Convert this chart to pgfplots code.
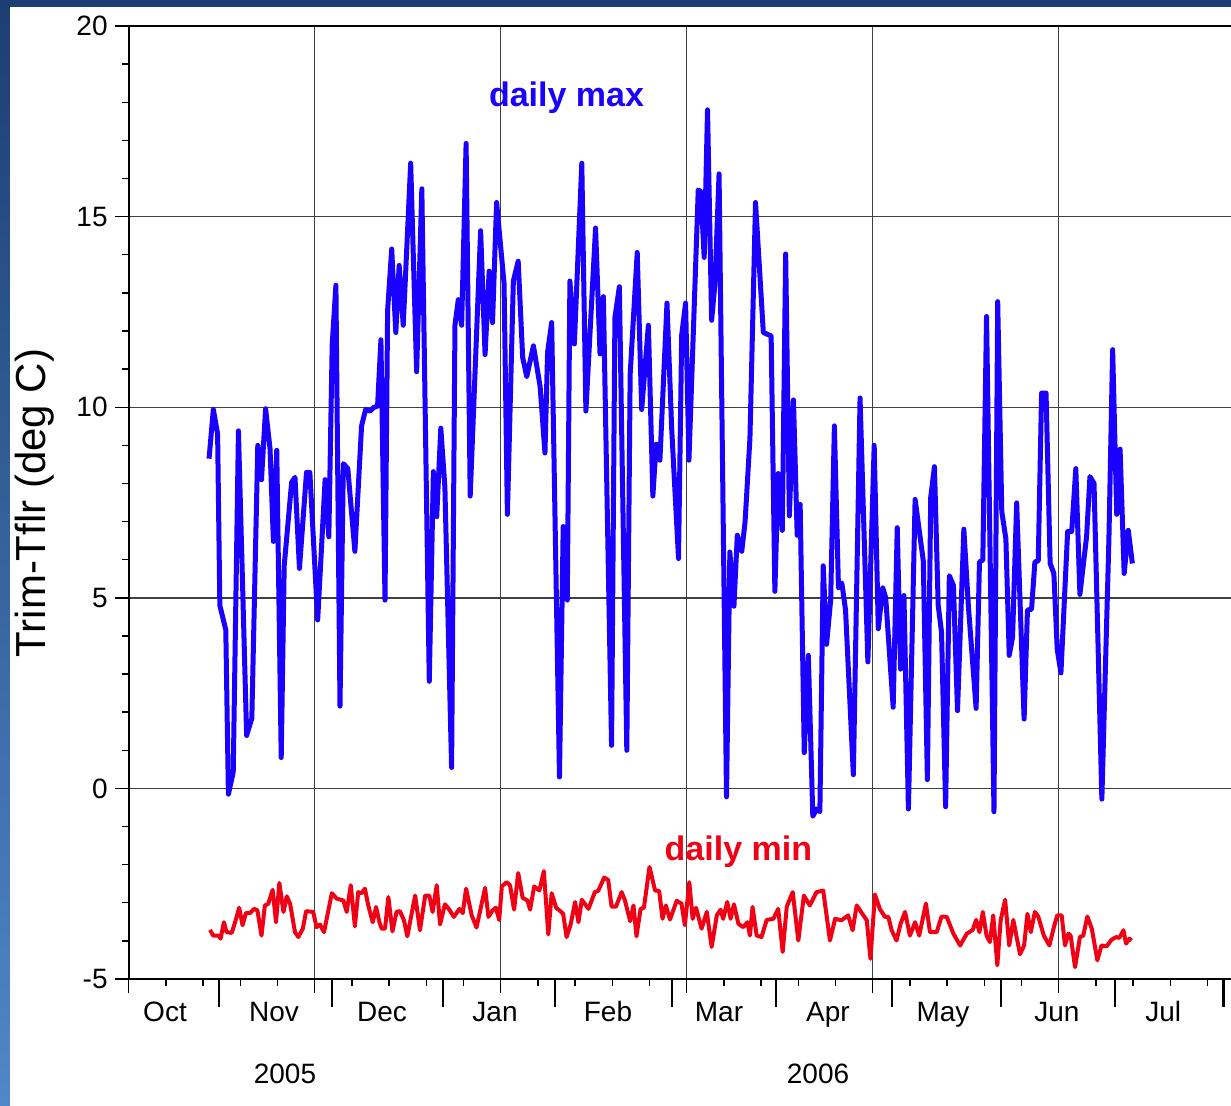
\documentclass[border=0pt]{standalone}
\usepackage{fontspec}
\setmainfont{Liberation Sans}
\usepackage{pgfplots}
\pgfplotsset{compat=1.18}
\definecolor{maxblue}{RGB}{25,0,255}
\definecolor{minred}{RGB}{240,0,20}
\definecolor{slidetop}{RGB}{28,62,115}
\definecolor{slidebot}{RGB}{80,135,200}
\begin{document}
\begin{tikzpicture}
\shade[top color=slidetop,bottom color=slidebot] (0pt,0pt) rectangle (615.5pt,-552.5pt);
\fill[white] (5pt,-3.5pt) rectangle (640pt,-570pt);
\begin{axis}[
  at={(64.35pt,-489.5pt)}, anchor=south west,
  scale only axis, width=558pt, height=476.5pt,
  xmin=0, xmax=300, ymin=-5, ymax=20,
  axis line style={line width=1.1pt},
  xtick={0,50,...,300}, xticklabels={,,},
  minor x tick num=4,
  ytick={-5,0,...,20}, minor y tick num=4,
  xtick pos=bottom, ytick pos=left, tick align=outside,
  major tick length=7pt, minor tick length=3.3pt,
  tick style={black, line width=0.7pt},
  grid=major, major grid style={black!75, line width=0.7pt},
  extra x ticks={24.17,54.62,84.46,114.70,146.05,174.01,205.08,234.54,265.13,294.30},
  extra x tick labels={,,},
  extra x tick style={grid=none, major tick length=14pt, tick style={line width=1.1pt, black}},
  yticklabel style={font=\fontsize{14}{16}\selectfont},
  /pgf/number format/assume math mode=true,
  clip=false, no markers,
]
\addplot[maxblue, line width=2.5pt, line join=round] table {
x y
21.6 8.65
22.75 9.94
23.9 9.30
24.5 4.80
26.1 4.16
26.8 -0.15
28.1 0.43
29.5 9.38
31.7 1.39
33.1 1.84
34.7 9.00
35.7 8.10
36.8 9.96
38.0 8.90
38.9 6.48
39.8 8.87
41.0 0.81
41.8 5.84
43.8 8.03
44.7 8.16
45.9 5.77
47.8 8.29
48.7 8.29
50.8 4.42
52.8 8.10
53.8 6.60
54.7 11.64
55.7 13.20
56.8 2.16
57.7 8.52
58.9 8.39
60.8 6.22
62.6 9.51
63.7 9.94
64.9 9.90
65.8 9.99
66.9 10.03
67.8 11.77
68.9 4.94
69.6 12.54
70.7 14.15
71.8 11.96
72.7 13.72
73.8 12.15
75.8 16.40
77.4 10.93
78.8 15.73
80.8 2.81
81.9 8.31
82.8 7.13
83.9 9.45
85.0 7.90
86.8 0.55
87.7 12.15
88.6 12.82
89.5 12.15
90.7 16.92
91.8 7.67
94.6 14.63
95.8 11.38
96.9 13.57
97.8 12.22
98.9 15.37
100.9 13.25
101.8 7.19
103.4 13.31
104.7 13.83
105.9 11.31
107.0 10.80
108.8 11.61
110.6 10.54
111.9 8.80
112.6 11.44
113.7 12.22
115.8 0.30
116.8 6.87
117.9 4.94
118.6 13.31
119.8 11.66
121.8 16.40
122.9 9.90
125.5 14.70
126.7 11.40
127.6 12.90
129.8 1.13
130.7 12.35
131.9 13.16
133.9 1.00
134.8 10.86
136.7 14.06
137.9 9.94
139.7 12.15
140.9 7.67
141.8 9.03
142.8 8.61
144.7 12.73
145.96 9.45
147.8 6.03
148.65 11.89
149.7 12.73
150.6 8.61
153.1 15.70
153.8 15.66
154.7 13.93
155.6 17.80
156.7 12.28
157.6 13.25
158.7 16.12
160.7 -0.22
161.6 6.20
162.7 4.78
163.6 6.64
164.8 6.22
165.7 7.00
167.0 9.19
168.5 15.37
170.6 11.96
172.7 11.87
173.7 5.17
174.6 8.26
175.7 6.77
176.6 14.02
177.6 7.15
178.7 10.19
179.7 6.64
180.5 7.45
181.6 0.94
182.7 3.49
183.9 -0.73
184.9 -0.54
185.8 -0.61
186.7 5.84
187.6 3.78
188.7 4.94
189.7 9.51
190.8 5.26
191.7 5.39
192.7 4.68
194.8 0.36
196.6 10.24
198.7 3.32
200.4 9.00
201.5 4.19
202.7 5.26
203.5 5.00
205.5 2.13
206.6 6.84
207.5 3.13
208.4 5.06
209.6 -0.54
211.4 7.58
213.6 5.97
214.7 0.23
215.6 7.64
216.6 8.44
217.6 4.81
218.5 4.10
219.6 -0.48
220.6 5.58
221.7 5.32
222.8 2.04
224.5 6.80
225.7 4.81
227.8 2.10
228.7 5.94
229.6 5.99
230.6 12.38
232.6 -0.61
233.6 12.77
234.7 7.26
235.8 6.55
236.7 3.49
237.6 3.97
238.7 7.49
240.7 1.82
241.6 4.68
242.7 4.70
243.6 5.94
244.5 5.97
245.4 10.37
246.6 10.37
247.7 5.90
248.7 5.64
249.6 3.65
250.6 3.03
252.4 6.74
253.5 6.74
254.6 8.39
255.7 5.09
257.5 6.61
258.4 8.18
259.5 8.00
261.6 -0.28
263.5 6.55
264.5 11.51
265.6 7.19
266.5 8.90
267.6 5.64
268.7 6.77
269.8 5.90
};
\addplot[minred, line width=2pt, line join=round] table {
x y
21.85 -3.71
22.7 -3.86
24.1 -3.86
24.7 -3.94
25.6 -3.51
26.3 -3.77
27.7 -3.79
28.6 -3.51
29.7 -3.13
30.6 -3.59
31.5 -3.27
32.6 -3.27
33.7 -3.16
34.6 -3.20
35.7 -3.86
36.6 -3.07
37.5 -3.03
38.7 -2.66
39.6 -3.51
40.5 -2.48
41.6 -3.24
42.5 -2.83
43.4 -3.03
44.7 -3.77
45.6 -3.90
46.8 -3.68
47.7 -3.22
49.6 -3.24
50.5 -3.64
51.4 -3.57
52.5 -3.77
54.6 -2.75
55.9 -2.89
57.7 -2.94
58.6 -3.24
59.7 -2.54
60.8 -3.62
61.7 -2.72
62.6 -2.75
63.5 -2.63
64.4 -3.07
65.6 -3.51
66.5 -3.11
67.4 -3.51
68.0 -3.68
68.9 -3.68
69.8 -2.85
70.9 -3.75
72.0 -3.24
72.9 -3.22
74.0 -3.46
74.9 -3.88
77.0 -2.81
78.3 -3.72
79.7 -2.81
80.8 -2.81
81.7 -3.24
82.8 -2.54
83.7 -3.57
85.0 -3.04
86.2 -3.18
87.4 -3.37
88.9 -3.16
89.8 -3.27
90.7 -2.63
92.2 -3.33
93.5 -3.65
95.8 -2.61
96.7 -3.37
97.8 -3.20
98.7 -3.13
99.6 -3.45
100.3 -2.57
101.6 -2.46
102.5 -2.54
103.6 -3.18
104.7 -2.22
105.9 -2.87
107.2 -2.94
107.9 -3.18
109.0 -2.57
110.4 -2.68
111.6 -2.17
112.8 -3.83
113.7 -2.75
114.9 -3.13
115.8 -3.20
116.8 -3.29
117.7 -3.90
118.8 -3.57
120.0 -2.98
120.9 -3.51
121.8 -2.92
123.6 -3.16
125.3 -2.72
126.2 -2.69
127.8 -2.34
128.9 -2.40
129.8 -3.10
131.0 -3.10
132.5 -2.72
133.4 -2.94
134.8 -3.48
135.7 -3.07
136.5 -3.88
137.6 -3.16
138.5 -3.13
140.0 -2.06
141.5 -2.68
142.6 -2.69
143.5 -3.42
144.4 -3.07
145.5 -3.44
147.3 -2.95
148.6 -3.02
149.5 -3.59
150.7 -2.46
151.6 -3.42
152.5 -3.13
154.0 -3.68
155.4 -3.24
156.7 -4.16
158.1 -3.33
159.1 -3.18
159.8 -3.42
160.9 -2.98
161.8 -3.42
162.7 -3.04
163.9 -3.55
165.2 -3.64
166.3 -3.51
167.0 -3.86
167.7 -3.11
168.8 -3.86
170.1 -3.90
171.5 -3.45
173.3 -3.42
174.6 -3.16
175.8 -4.29
176.9 -3.10
178.5 -2.72
180.0 -3.99
181.5 -2.81
183.1 -3.07
184.9 -2.72
186.7 -2.68
188.5 -3.99
189.9 -3.42
191.6 -3.46
193.4 -3.33
194.6 -3.72
195.7 -3.07
197.5 -3.33
198.4 -3.46
199.4 -4.47
200.6 -2.78
201.9 -3.16
203.3 -3.37
204.2 -3.37
205.1 -3.72
206.4 -3.99
207.5 -3.55
208.7 -3.24
210.0 -3.86
211.4 -3.51
212.5 -3.86
214.3 -3.02
215.4 -3.77
217.2 -3.77
218.5 -3.36
219.9 -3.37
221.7 -3.81
223.5 -4.12
225.3 -3.81
226.9 -3.71
227.8 -3.45
228.7 -3.77
229.6 -3.24
230.6 -3.86
231.5 -4.03
232.4 -3.33
233.5 -4.64
234.4 -3.46
235.6 -2.92
236.7 -4.12
237.8 -3.45
239.6 -4.35
240.7 -4.12
241.6 -3.29
242.5 -3.77
243.6 -3.24
244.5 -3.36
246.0 -3.86
247.5 -4.12
248.6 -3.68
249.6 -3.33
250.8 -3.33
251.7 -4.12
252.6 -3.81
253.2 -3.86
254.4 -4.69
255.7 -3.90
256.6 -3.86
257.7 -3.36
258.9 -3.68
260.4 -4.51
261.5 -4.12
262.9 -4.14
264.2 -3.97
265.4 -3.90
266.3 -3.92
267.4 -3.72
268.1 -4.07
269.0 -3.94
269.6 -3.99
};
\node[anchor=base, font=\bfseries\fontsize{17}{20}\selectfont, text=maxblue] at (axis cs:117.7,17.89) {daily max};
\node[anchor=base, font=\bfseries\fontsize{17}{20}\selectfont, text=minred] at (axis cs:163.9,-1.89) {daily min};
\node[anchor=base, font=\fontsize{14}{16}\selectfont] at (axis cs:9.76,-6.11) {Oct};
\node[anchor=base, font=\fontsize{14}{16}\selectfont] at (axis cs:39.06,-6.11) {Nov};
\node[anchor=base, font=\fontsize{14}{16}\selectfont] at (axis cs:68.09,-6.11) {Dec};
\node[anchor=base, font=\fontsize{14}{16}\selectfont] at (axis cs:98.47,-6.11) {Jan};
\node[anchor=base, font=\fontsize{14}{16}\selectfont] at (axis cs:128.84,-6.11) {Feb};
\node[anchor=base, font=\fontsize{14}{16}\selectfont] at (axis cs:158.68,-6.11) {Mar};
\node[anchor=base, font=\fontsize{14}{16}\selectfont] at (axis cs:187.99,-6.11) {Apr};
\node[anchor=base, font=\fontsize{14}{16}\selectfont] at (axis cs:218.9,-6.11) {May};
\node[anchor=base, font=\fontsize{14}{16}\selectfont] at (axis cs:249.5,-6.11) {Jun};
\node[anchor=base, font=\fontsize{14}{16}\selectfont] at (axis cs:278.1,-6.11) {Jul};
\node[anchor=base, font=\fontsize{14}{16}\selectfont] at (axis cs:42.0,-7.74) {2005};
\node[anchor=base, font=\fontsize{14}{16}\selectfont] at (axis cs:185.3,-7.74) {2006};
\end{axis}
\node[rotate=90, font=\fontsize{21}{24}\selectfont] at (17.5pt,-251.5pt) {Trim-Tflr (deg C)};
\pgfresetboundingbox
\useasboundingbox (0pt,0pt) rectangle (615.5pt,-552.5pt);
\end{tikzpicture}
\end{document}
